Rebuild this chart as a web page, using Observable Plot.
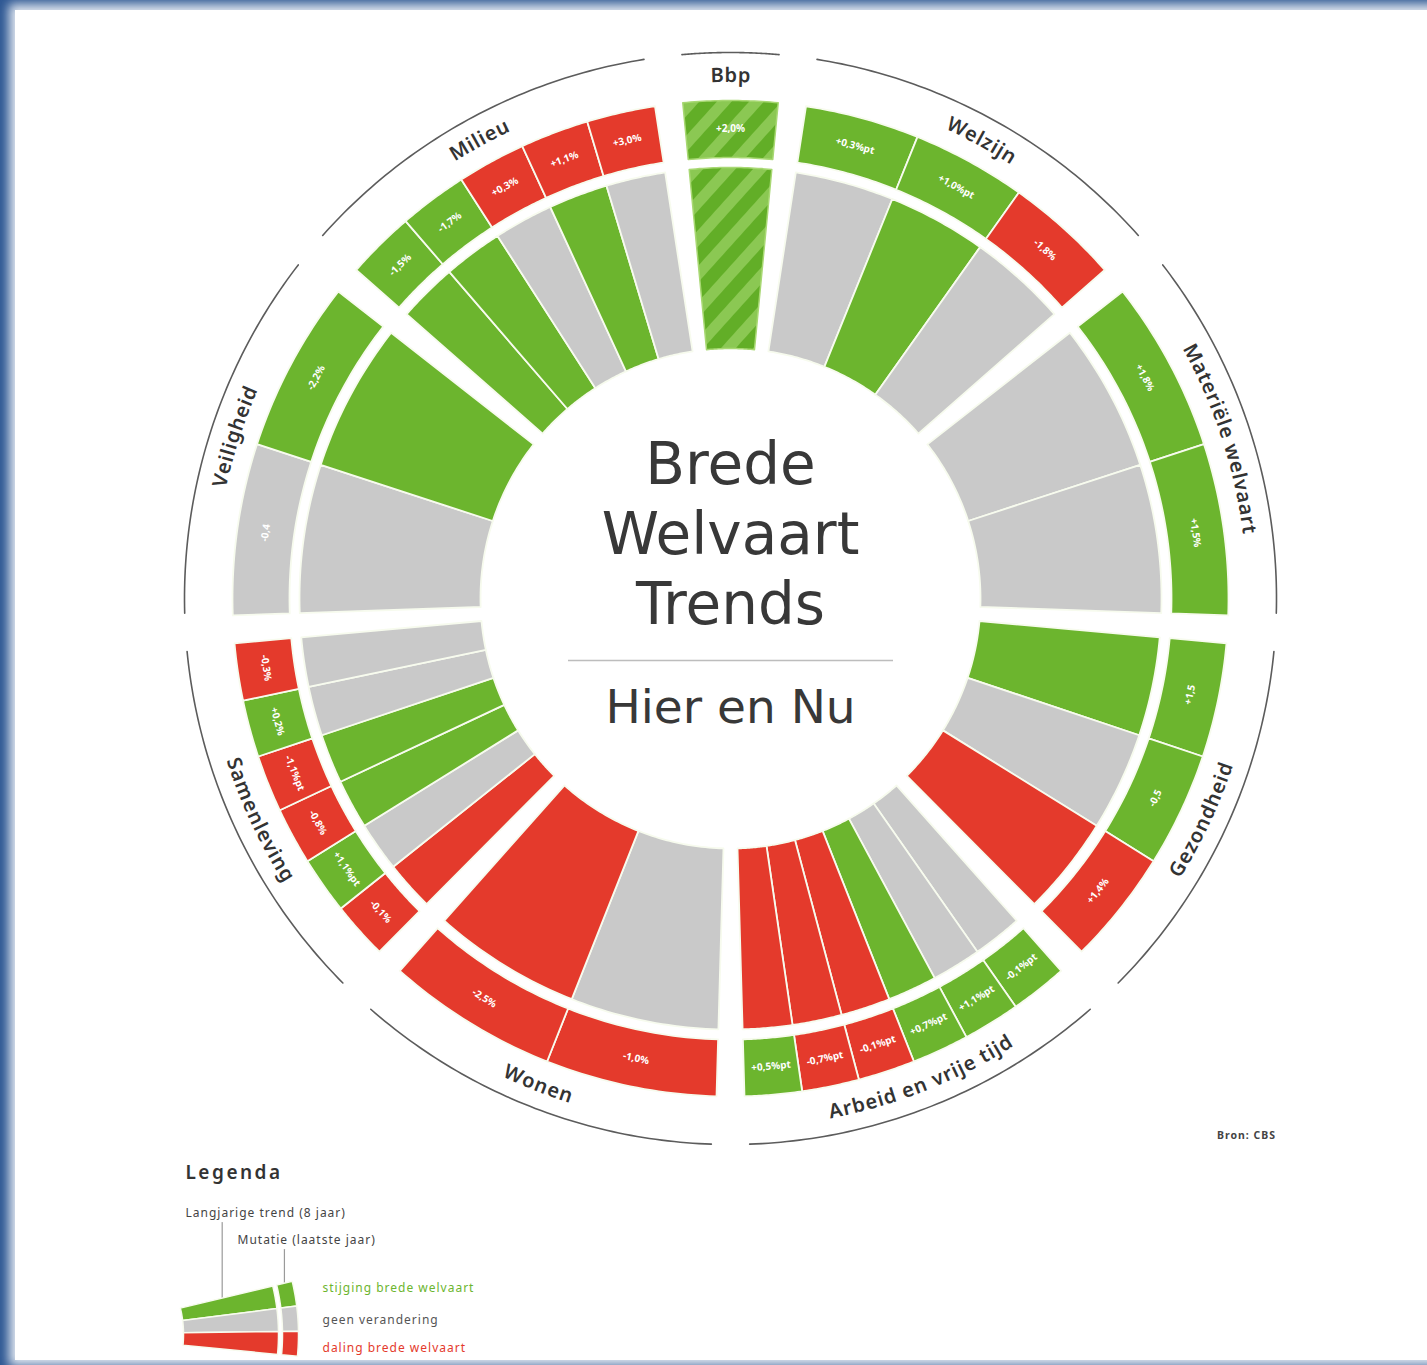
<!DOCTYPE html>
<html>
<head>
<meta charset="utf-8">
<script src="https://cdn.jsdelivr.net/npm/d3@7"></script>
<script src="https://cdn.jsdelivr.net/npm/@observablehq/plot@0.6"></script>
<style>
html, body { margin: 0; padding: 0; }
body { width: 1427px; height: 1365px; background: #2d5793; position: relative; overflow: hidden; font-family: "Noto Sans", sans-serif; }
#card { position: absolute; left: 15px; top: 10px; right: -30px; bottom: 5px; background: #fff; box-shadow: 0 0 10px 6px rgba(255,255,255,0.85); }
#chart { position: absolute; left: 0; top: 0; }
</style>
</head>
<body>
<div id="card"></div>
<div id="chart"></div>
<script>
// ---------------- DATA ----------------
const categories = ["Bbp", "Welzijn", "Materiële welvaart", "Gezondheid", "Arbeid en vrije tijd", "Wonen", "Samenleving", "Veiligheid", "Milieu"];
const indicatorCounts = [1, 3, 2, 3, 6, 2, 6, 2, 5];
// long-term trend (inner ring), clockwise order
const trendStatus = [
  "stijging",
  "geen", "stijging", "geen",
  "geen", "geen",
  "stijging", "geen", "daling",
  "geen", "geen", "stijging", "daling", "daling", "daling",
  "geen", "daling",
  "daling", "geen", "stijging", "stijging", "geen", "geen",
  "geen", "stijging",
  "stijging", "stijging", "geen", "stijging", "geen"
];
// mutation last year (outer ring), clockwise order
const mutationStatus = [
  "stijging",
  "stijging", "stijging", "daling",
  "stijging", "stijging",
  "stijging", "stijging", "daling",
  "stijging", "stijging", "stijging", "daling", "daling", "stijging",
  "daling", "daling",
  "daling", "stijging", "daling", "daling", "stijging", "daling",
  "geen", "stijging",
  "stijging", "stijging", "daling", "daling", "daling"
];
const mutationLabels = [
  "+2,0%",
  "+0,3%pt", "+1,0%pt", "-1,8%",
  "+1,8%", "+1,5%",
  "+1,5", "-0,5", "+1,4%",
  "-0,1%pt", "+1,1%pt", "+0,7%pt", "-0,1%pt", "-0,7%pt", "+0,5%pt",
  "-1,0%", "-2,5%",
  "-0,1%", "+1,1%pt", "-0,8%", "-1,1%pt", "+0,2%", "-0,3%",
  "-0,4", "-2,2%",
  "-1,5%", "-1,7%", "+0,3%", "+1,1%", "+3,0%"
];
const statusDomain = ["stijging", "geen", "daling"];
const legendLabels = ["stijging brede welvaart", "geen verandering", "daling brede welvaart"];
const legendParts = ["Langjarige trend (8 jaar)", "Mutatie (laatste jaar)"];
const legendTitle = "Legenda";
const titleLines = ["Brede", "Welvaart", "Trends"];
const subtitle = "Hier en Nu";
const sourceNote = "Bron: CBS";

// ---------------- LAYOUT / STYLE ----------------
const W = 1427, H = 1365;
const cx = 730, cy = 598;
const R0 = 250, R1 = 431, R2 = 441, R3 = 498, RL = 523, RA = 546;
const GAP = 3.22, BBP_SPAN = 11;
const GREEN = "#6cb52e", GRAY = "#c9c9c9", RED = "#e43a2c";
const SEP = "#f7fbee";
const FONT = "Noto Sans";
const TITLE_FONT = "DejaVu Sans";
const rad = a => a * Math.PI / 180;
const pt = (r, a) => [r * Math.sin(rad(a)), r * Math.cos(rad(a))];
const toX = px => px - cx, toY = py => cy - py;
const norm = a => ((a % 360) + 360) % 360;

const otherSpan = (360 - BBP_SPAN - categories.length * GAP) / (categories.length - 1);
let cursor = -BBP_SPAN / 2;
const catLayout = categories.map((c, k) => {
  const span = k === 0 ? BBP_SPAN : otherSpan;
  const L = {cat: c, k, a0: cursor, a1: cursor + span, n: indicatorCounts[k]};
  cursor += span + GAP;
  return L;
});

const indicators = [];
{
  let idx = 0;
  for (const L of catLayout) {
    const step = (L.a1 - L.a0) / L.n;
    for (let j = 0; j < L.n; j++) {
      indicators.push({id: idx, cat: L.k, a0: L.a0 + j * step, a1: L.a0 + (j + 1) * step,
        trend: trendStatus[idx], mutation: mutationStatus[idx], label: mutationLabels[idx]});
      idx++;
    }
  }
}

function wedgePoints(id, a0, a1, r0, r1, status, steps = 24) {
  const pts = [];
  for (let s = 0; s <= steps; s++) { const [x, y] = pt(r1, a0 + (a1 - a0) * s / steps); pts.push({id, x, y, status}); }
  for (let s = steps; s >= 0; s--) { const [x, y] = pt(r0, a0 + (a1 - a0) * s / steps); pts.push({id, x, y, status}); }
  return pts;
}

const ringWedges = indicators.filter(d => d.cat !== 0).flatMap(d => [
  ...wedgePoints("t" + d.id, d.a0, d.a1, R0, R1, d.trend),
  ...wedgePoints("m" + d.id, d.a0, d.a1, R2, R3, d.mutation)
]);
const bbpWedges = indicators.filter(d => d.cat === 0).flatMap(d => [
  ...wedgePoints("t" + d.id, d.a0, d.a1, R0, R1, d.trend),
  ...wedgePoints("m" + d.id, d.a0, d.a1, R2, R3, d.mutation)
]);

const cellLabels = indicators.map(d => {
  const am = (d.a0 + d.a1) / 2, a = norm(am);
  const [x, y] = pt((R2 + R3) / 2, am);
  const rot = (a > 90 && a < 270) ? a - 180 : (a >= 270 ? a - 360 : a);
  return {x, y, text: d.label, rotate: rot};
});

// category labels, placed character by character along the arc
const LABEL_SIZE = 20, LETTER_SP = 0.9;
const ctx = document.createElement("canvas").getContext("2d");
ctx.font = `600 ${LABEL_SIZE}px "${FONT}"`;
const catChars = catLayout.flatMap(L => {
  const mid = (L.a0 + L.a1) / 2, m = norm(mid);
  const bottom = m > 90 && m < 270;
  const chars = [...L.cat];
  const widths = chars.map(ch => ctx.measureText(ch).width + LETTER_SP);
  const total = d3.sum(widths);
  let s = 0;
  return chars.map((ch, i) => {
    const off = s + widths[i] / 2 - total / 2; s += widths[i];
    const da = off / RL * 180 / Math.PI;
    const a = bottom ? mid - da : mid + da;
    const [x, y] = pt(RL, a);
    return {x, y, ch, rot: bottom ? a - 180 : a};
  });
});

const arcLines = catLayout.flatMap(L => d3.range(0, 61).map(s => {
  const a = L.a0 + 0.4 + (L.a1 - L.a0 - 0.8) * s / 60;
  const [x, y] = pt(RA, a);
  return {k: L.k, x, y};
}));

// legend fan
const LA = {x: 70, y: 1334}, LAX = 4, LHALF = 9.5;
const bandW = 2 * LHALF / 3;
const legPt = (r, phi) => ({x: toX(LA.x + r * Math.cos(rad(phi))), y: toY(LA.y - r * Math.sin(rad(phi)))});
const legendRadii = [[113, 208], [212, 228]];
const legendShapes = statusDomain.flatMap((st, i) => legendRadii.flatMap(([r0, r1], p) => {
  const p1 = LAX + LHALF - i * bandW, p0 = p1 - bandW;
  const pts = [];
  for (let s = 0; s <= 8; s++) pts.push({...legPt(r1, p1 - (p1 - p0) * s / 8), id: st + p, status: st});
  for (let s = 8; s >= 0; s--) pts.push({...legPt(r0, p1 - (p1 - p0) * s / 8), id: st + p, status: st});
  return pts;
}));
const calloutR = [156, 220];
const calloutTopY = [1222, 1249];
const callouts = calloutR.flatMap((r, i) => {
  const b = legPt(r, LAX + LHALF);
  return [{i, x: b.x, y: b.y}, {i, x: b.x, y: toY(calloutTopY[i])}];
});
const legendTextColors = ["#6cb52e", "#555555", "#e43a2c"];

// ---------------- PLOT ----------------
const chart = Plot.plot({
  width: W, height: H, margin: 0,
  style: {background: "transparent", fontFamily: FONT, overflow: "visible"},
  x: {domain: [-cx, W - cx], axis: null},
  y: {domain: [cy - H, cy], axis: null},
  color: {domain: statusDomain, range: [GREEN, GRAY, RED]},
  marks: [
    Plot.line(ringWedges, {x: "x", y: "y", z: "id", fill: "status", stroke: SEP, strokeWidth: 1.8, curve: "linear-closed"}),
    Plot.line(bbpWedges, {x: "x", y: "y", z: "id", fill: "url(#bbpStripes)", stroke: "#a8d873", strokeWidth: 1.5, curve: "linear-closed"}),
    Plot.text(cellLabels, {x: "x", y: "y", text: "text", rotate: "rotate", fill: "white", fontSize: 10, fontWeight: 700}),
    Plot.line(arcLines, {x: "x", y: "y", z: "k", stroke: "#5c5c5c", strokeWidth: 1.6}),
    Plot.text(catChars, {x: "x", y: "y", text: "ch", rotate: "rot", fontSize: LABEL_SIZE, fontWeight: 600, fill: "#333333"}),
    // centre title
    Plot.text(titleLines, {x: 0, y: (d, i) => 133 - 70 * i, text: d => d, fontSize: 58, fontFamily: TITLE_FONT, fill: "#383838"}),
    Plot.ruleY([-62], {x1: -162, x2: 163, stroke: "#bdbdbd", strokeWidth: 1.5}),
    Plot.text([subtitle], {x: 0, y: -109, text: d => d, fontSize: 47, fontFamily: TITLE_FONT, fill: "#383838"}),
    // source
    Plot.text([sourceNote], {x: toX(1246), y: toY(1135), text: d => d, fontSize: 10.5, fontWeight: 700, fill: "#444"}),
    // legend
    Plot.text([legendTitle], {x: toX(185), y: toY(1172), text: d => d, textAnchor: "start", fontSize: 19, fontWeight: 600, fill: "#333"}),
    Plot.text(legendParts, {x: (d, i) => toX([185, 237][i]), y: (d, i) => toY([1213, 1240][i]), text: d => d, textAnchor: "start", fontSize: 12, fill: "#444"}),
    Plot.line(callouts, {x: "x", y: "y", z: "i", stroke: "#9a9a9a", strokeWidth: 1.2}),
    Plot.line(legendShapes, {x: "x", y: "y", z: "id", fill: "status", stroke: SEP, strokeWidth: 1.5, curve: "linear-closed"}),
    ...legendLabels.map((t, i) => Plot.text([t], {x: toX(322), y: toY([1288, 1320, 1348][i]), text: d => d, textAnchor: "start", fontSize: 12, fill: legendTextColors[i]}))
  ]
});

// stripe pattern for the Bbp reference wedge
const svgSel = d3.select(chart);
const defs = svgSel.insert("defs", ":first-child");
const pat = defs.append("pattern").attr("id", "bbpStripes").attr("patternUnits", "userSpaceOnUse")
  .attr("width", 24).attr("height", 24).attr("patternTransform", "rotate(42)");
pat.append("rect").attr("width", 24).attr("height", 24).attr("fill", "#62ae27");
pat.append("rect").attr("width", 11).attr("height", 24).attr("fill", "#8bc853");

// letter spacing for the legend / source texts
const spaced = new Map([[legendTitle, "2.5px"], [sourceNote, "1px"], ...legendParts.map(t => [t, "1px"]), ...legendLabels.map(t => [t, "1px"])]);
svgSel.selectAll("text").each(function() {
  const t = this.textContent;
  if (spaced.has(t)) d3.select(this).style("letter-spacing", spaced.get(t));
});

document.getElementById("chart").appendChild(chart);
</script>
</body>
</html>
